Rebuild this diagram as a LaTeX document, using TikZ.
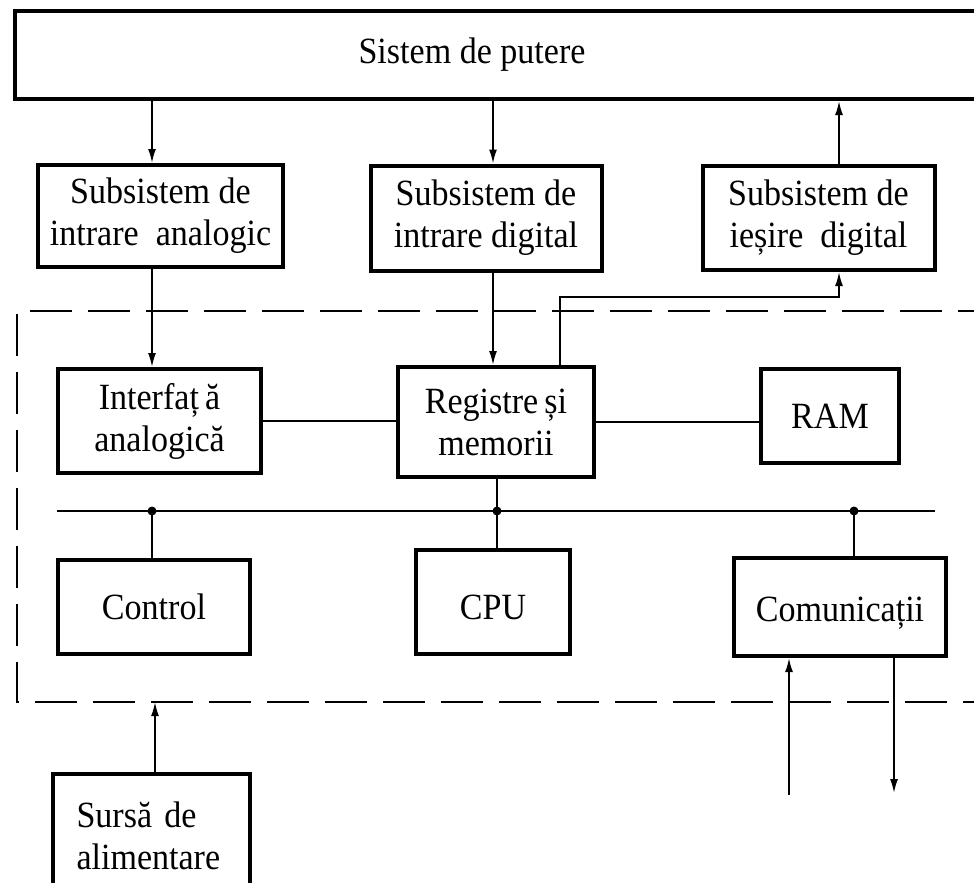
\documentclass[tikz,border=0pt]{standalone}
\usepackage{fontspec}
\setmainfont{Liberation Serif}[FakeStretch=0.92]
\usetikzlibrary{arrows.meta}
\begin{document}
\begin{tikzpicture}[x=1pt,y=-1pt,
  blk/.style={draw,line width=4pt,inner sep=0pt,align=center,font=\fontsize{37}{42}\selectfont},
  txt/.style={inner sep=0pt,align=center,font=\fontsize{37}{42}\selectfont},
  wire/.style={line width=1.8pt},
  arr/.style={wire,-{Latex[length=14pt,width=8pt]}},
  frame/.style={line width=2.6pt,dash pattern=on 42pt off 16pt},
  joint/.style={circle,fill,inner sep=0pt,minimum size=9pt}]
\useasboundingbox (0,0) rectangle (974,883);
\clip (0,0) rectangle (974,883);
\fill[white] (0,0) rectangle (974,883);

% vertical tap lines
\coordinate (c1) at (152,0);
\coordinate (c2) at (493,0);
\coordinate (c3) at (839,0);
\coordinate (c5) at (497,0);
\coordinate (c6) at (854,0);
\coordinate (c7) at (155,702);
\coordinate (bend) at (560,297);
\coordinate (busl) at (57,511);
\coordinate (busr) at (935,511);
\coordinate (inend) at (789,795);
\coordinate (outend) at (894,793);

% power system across the top
\node[blk,minimum width=985pt,minimum height=88pt] (power) at (507.5,55) {};
\node[txt] (powerlbl) at (472,55) {Sistem de putere};

% I/O subsystems
\node[blk,minimum width=245pt,minimum height=102pt] (ain) at (160.5,216) {Subsistem de\\intrare\ \ analogic};
\node[blk,minimum width=231pt,minimum height=105pt] (din) at (486,218) {Subsistem de\\intrare digital};
\node[blk,minimum width=232pt,minimum height=104pt] (dout) at (818.5,218) {Subsistem de\\ieșire\ \ digital};

% controller frame
\draw[frame] (1000,311) -- (17,311) -- (17,702) -- (1000,702);

\node[blk,minimum width=203pt,minimum height=104pt] (aif) at (159.5,421) {Interfaț\,ă\\analogică};
\node[blk,minimum width=196pt,minimum height=110pt] (reg) at (496,422) {Registre\,și\\memorii};
\node[blk,minimum width=138pt,minimum height=94pt] (ram) at (830,416) {RAM};

\node[blk,minimum width=192pt,minimum height=94pt] (ctl) at (154,607) {Control};
\node[blk,minimum width=154pt,minimum height=104pt] (cpu) at (493,602) {\raisebox{-5pt}[24.5pt][0pt]{CPU}};
\node[blk,minimum width=212pt,minimum height=98pt] (com) at (840,607) {\raisebox{-2pt}[\height][0pt]{Comunicații}};

% power supply
\node[blk,minimum width=197pt,minimum height=125pt,text width=150pt,align=left] (psu) at (151.5,836) {Sursă de\\alimentare};

% connectors
\draw[arr] (power.south -| c1) -- (ain.north -| c1);
\draw[arr] (power.south -| c2) -- (din.north -| c2);
\draw[arr] (dout.north -| c3) -- (power.south -| c3);
\draw[arr] (ain.south -| c1) -- (aif.north -| c1);
\draw[arr] (din.south -| c2) -- (reg.north -| c2);
\draw[arr] (reg.north -| bend) -- (bend) -| (dout.south -| c3);
\draw[wire] (aif.east) -- (reg.west |- aif.east);
\draw[wire] (reg.east) -- (ram.west |- reg.east);

% internal bus
\draw[wire] (busl) -- (busr);
\draw[wire] (reg.south -| c5) -- (busl -| c5);
\draw[wire] (busl -| c1) -- (ctl.north -| c1);
\draw[wire] (busl -| c5) -- (cpu.north -| c5);
\draw[wire] (busl -| c6) -- (com.north -| c6);
\node[joint] (j1) at (busl -| c1) {};
\node[joint] (j2) at (busl -| c5) {};
\node[joint] (j3) at (busl -| c6) {};

\draw[arr] (inend) -- (com.south -| inend);
\draw[arr] (com.south -| outend) -- (outend);
\draw[arr] (psu.north -| c7) -- (c7);
\end{tikzpicture}
\end{document}
